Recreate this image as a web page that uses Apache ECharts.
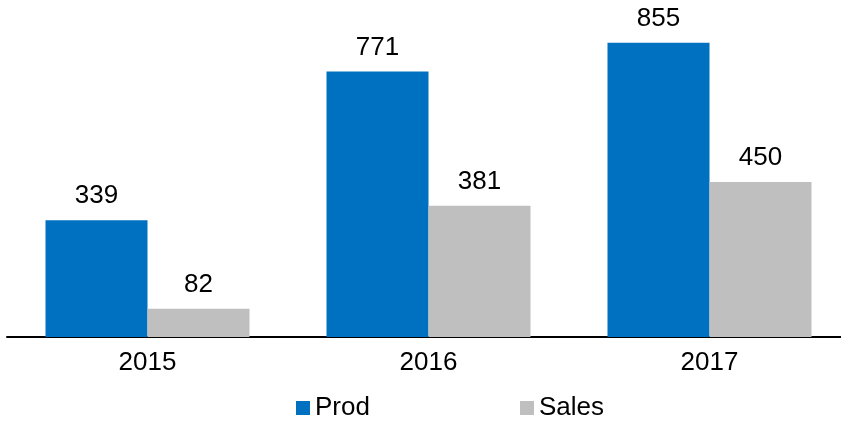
<!DOCTYPE html>
<html>
<head>
<meta charset="utf-8">
<script src="https://cdn.jsdelivr.net/npm/echarts@6/dist/echarts.min.js"></script>
<style>html,body{margin:0;padding:0;background:#fff;overflow:hidden;width:841px;height:422px}#c{width:850px;height:422px}</style>
</head>
<body>
<div id="c"></div>
<script>
const categories = ['2015', '2016', '2017'];
const prodValues = [339, 771, 855];
const salesValues = [82, 381, 450];
const seriesNames = ['Prod', 'Sales'];

const FONT = '"Liberation Sans", Arial, sans-serif';
const chart = echarts.init(document.getElementById('c'), null, {renderer: 'canvas'});
const labelStyle = {show: true, position: 'top', distance: 11, color: '#000', fontSize: 26, fontFamily: FONT};
chart.setOption({
  animation: false,
  textStyle: {fontFamily: FONT},
  grid: {left: 7, top: 0, right: 0, bottom: 85, containLabel: false},
  xAxis: {
    type: 'category', data: categories,
    axisLine: {show: true, lineStyle: {color: '#000', width: 2}},
    axisTick: {show: false},
    axisLabel: {color: '#000', fontSize: 26, fontFamily: FONT, margin: 13}
  },
  yAxis: {type: 'value', min: 0, max: 979, show: false, splitLine: {show: false}},
  legend: [
    {data: [seriesNames[0]], left: 296, top: 395, padding: 0, itemWidth: 14, itemHeight: 14, itemGap: 0,
     icon: 'rect', textStyle: {color: '#000', fontSize: 26, fontFamily: FONT}},
    {data: [seriesNames[1]], left: 520, top: 395, padding: 0, itemWidth: 14, itemHeight: 14, itemGap: 0,
     icon: 'rect', textStyle: {color: '#000', fontSize: 26, fontFamily: FONT}}
  ],
  series: [
    {name: seriesNames[0], type: 'bar', data: prodValues, barGap: '0%', barCategoryGap: '27.4%',
     itemStyle: {color: '#0070C0'}, label: labelStyle},
    {name: seriesNames[1], type: 'bar', data: salesValues, barGap: '0%', barCategoryGap: '27.4%',
     itemStyle: {color: '#BFBFBF'}, label: labelStyle}
  ]
});
</script>
</body>
</html>
